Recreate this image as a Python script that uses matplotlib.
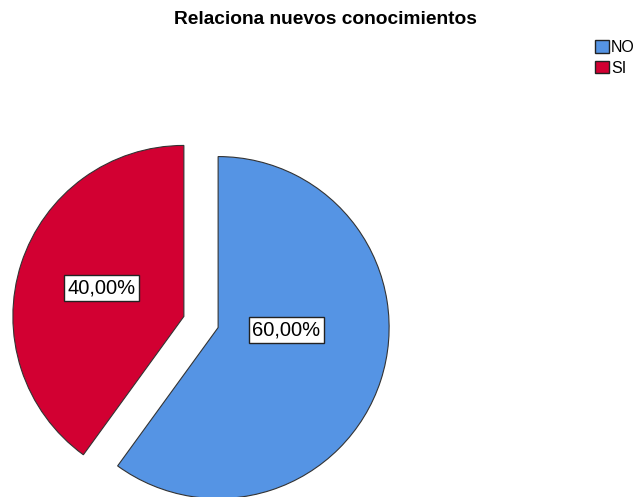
import matplotlib
matplotlib.use("Agg")
import matplotlib.pyplot as plt
from matplotlib.patches import Patch
import numpy as np

categories = ["NO", "SI"]
values = [60.0, 40.0]
labels_txt = ["60,00%", "40,00%"]
colors = ["#5594E4", "#D20032"]

W, H = 639, 497
fig = plt.figure(figsize=(W / 100, H / 100), dpi=100)
ax = fig.add_axes([0, 0, 1, 1])

R = 171
center = (201, H - 322)
wedges, _ = ax.pie(values, colors=colors, startangle=90, counterclock=False,
                   radius=R, center=center, explode=[18, 18],
                   wedgeprops=dict(edgecolor="#333333", linewidth=0.8),
                   frame=True)
ax.set_xlim(0, W)
ax.set_ylim(0, H)
ax.set_aspect("equal")
ax.axis("off")

# label placement (angle in degrees, fraction of radius) relative to each wedge center
place = [(-2, 0.40), (161, 0.51)]
for w, txt, (ang, fr) in zip(wedges, labels_txt, place):
    cx, cy = w.center
    x = cx + fr * R * np.cos(np.radians(ang))
    y = cy + fr * R * np.sin(np.radians(ang))
    ax.text(x, y, txt, ha="center", va="center", fontsize=14.5,
            family="Liberation Sans",
            bbox=dict(boxstyle="square,pad=0.16", fc="white", ec="#222222", lw=1.0))

fig.text(325 / W, 1 - 20 / H, "Relaciona nuevos conocimientos", ha="center", va="center",
         fontsize=13.8, fontweight="bold", family="Liberation Sans")

handles = [Patch(facecolor=c, edgecolor="#222222", linewidth=1.0) for c in colors]
fig.legend(handles, categories, loc="upper left", bbox_to_anchor=(595 / W, 1 - 40 / H),
           frameon=False, prop=dict(family="Liberation Sans", size=11.5),
           handlelength=0.85, handleheight=0.85, handletextpad=0.15, labelspacing=0.35,
           borderaxespad=0, borderpad=0)

fig.savefig("out.png", dpi=100)
